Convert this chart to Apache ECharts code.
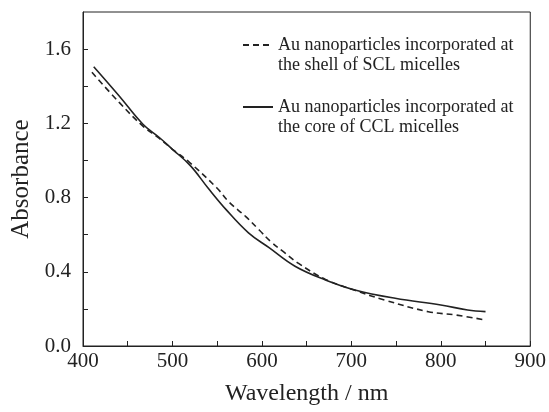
<!DOCTYPE html>
<html>
<head>
<meta charset="utf-8">
<script src="https://cdn.jsdelivr.net/npm/echarts@6/dist/echarts.min.js"></script>
<style>
html,body{margin:0;padding:0;background:#fff;}
#chart{width:549px;height:412px;}
</style>
</head>
<body>
<div id="chart"></div>
<script>
// Data
var shellWavelength = [410, 441, 467, 485, 500, 519, 550, 563, 582, 597, 610, 624, 641, 671, 704, 737, 786, 817, 850];
var shellAbsorbance = [1.475, 1.31, 1.185, 1.12, 1.06, 0.99, 0.85, 0.777, 0.697, 0.625, 0.562, 0.508, 0.445, 0.359, 0.30, 0.248, 0.185, 0.167, 0.14];

var coreWavelength = [412, 440, 467, 485, 500, 520, 540, 560, 585, 608, 637, 671, 704, 749, 800, 830, 850];
var coreAbsorbance = [1.505, 1.35, 1.195, 1.125, 1.06, 0.972, 0.85, 0.735, 0.61, 0.53, 0.43, 0.356, 0.302, 0.257, 0.221, 0.194, 0.185];

var seriesNames = [
  'Au nanoparticles incorporated at\nthe shell of SCL micelles',
  'Au nanoparticles incorporated at\nthe core of CCL micelles'
];
var xTickLabels = [400, 500, 600, 700, 800, 900];
var yTickLabels = [0.0, 0.4, 0.8, 1.2, 1.6];

function pairs(xs, ys) { return xs.map(function (x, i) { return [x, ys[i]]; }); }

var fontFam = '"Liberation Serif", "DejaVu Serif", serif';
var ink = '#222';

function legendOf(name, top) {
  return {
    orient: 'vertical',
    left: 242,
    top: top,
    padding: 0,
    itemWidth: 30,
    itemHeight: 10,
    data: [name],
    itemStyle: {color: 'rgba(0,0,0,0)', borderColor: 'rgba(0,0,0,0)', borderWidth: 0, opacity: 0},
    // a leading empty line keeps the sample line level with the first text line
    formatter: function (n) { return '\n' + n; },
    textStyle: {fontFamily: fontFam, fontSize: 18, color: ink, lineHeight: 20}
  };
}

var chart = echarts.init(document.getElementById('chart'), null, {renderer: 'canvas'});
chart.setOption({
  animation: false,
  backgroundColor: '#fff',
  grid: {left: 83, right: 16, top: 12, bottom: 66, show: true, borderColor: ink, borderWidth: 1, backgroundColor: 'transparent'},
  legend: [legendOf(seriesNames[0], 15), legendOf(seriesNames[1], 77)],
  xAxis: {
    type: 'value', min: 400, max: 900, interval: 50,
    name: 'Wavelength / nm', nameLocation: 'middle', nameGap: 36,
    nameTextStyle: {fontFamily: fontFam, fontSize: 24, color: ink},
    axisLine: {lineStyle: {color: ink, width: 1}},
    axisTick: {inside: true, length: 5, lineStyle: {color: ink}},
    axisLabel: {fontFamily: fontFam, fontSize: 21, color: ink, margin: 5,
      formatter: function (v) { return xTickLabels.indexOf(v) >= 0 ? String(v) : ''; }},
    splitLine: {show: false}
  },
  yAxis: {
    type: 'value', min: 0, max: 1.8, interval: 0.2,
    name: 'Absorbance', nameLocation: 'middle', nameGap: 48,
    nameTextStyle: {fontFamily: fontFam, fontSize: 25, color: ink},
    axisLine: {show: true, lineStyle: {color: ink, width: 1}},
    axisTick: {show: true, inside: true, length: 5, lineStyle: {color: ink}},
    axisLabel: {fontFamily: fontFam, fontSize: 21, color: ink, margin: 12, showMaxLabel: false,
      formatter: function (v) {
        for (var i = 0; i < yTickLabels.length; i++) {
          if (Math.abs(v - yTickLabels[i]) < 1e-6) return v.toFixed(1);
        }
        return '';
      }},
    splitLine: {show: false}
  },
  series: [
    {
      name: seriesNames[0], type: 'line', data: pairs(shellWavelength, shellAbsorbance),
      showSymbol: false, symbol: 'none', smooth: 0.4,
      lineStyle: {color: ink, width: 1.6, type: [6, 4]},
      itemStyle: {color: ink}
    },
    {
      name: seriesNames[1], type: 'line', data: pairs(coreWavelength, coreAbsorbance),
      showSymbol: false, symbol: 'none', smooth: 0.4,
      lineStyle: {color: ink, width: 1.6, type: 'solid'},
      itemStyle: {color: ink}
    }
  ]
});
</script>
</body>
</html>
